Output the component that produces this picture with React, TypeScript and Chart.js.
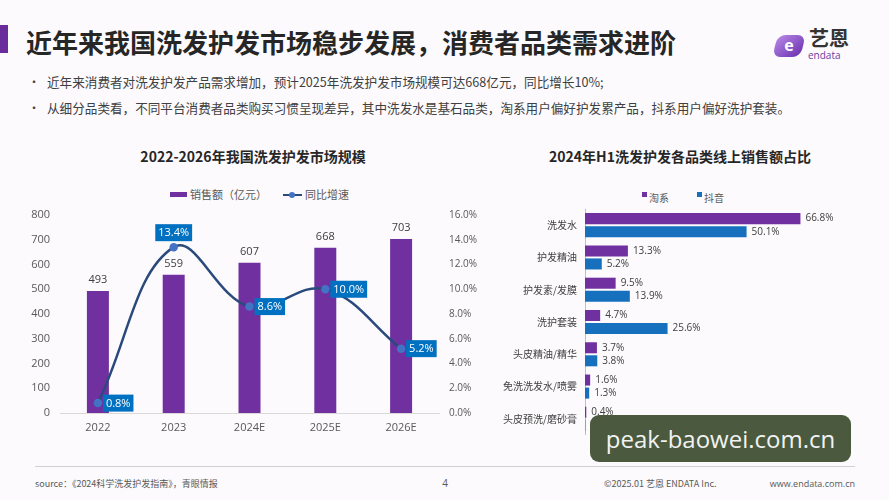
import React, { useEffect, useRef } from "react";
import { Chart, registerables } from "chart.js";

Chart.register(...registerables);

// ---------- data ----------
const years = ["2022", "2023", "2024E", "2025E", "2026E"];
const sales = [493, 559, 607, 668, 703];
const growth = [0.8, 13.4, 8.6, 10.0, 5.2];

const categories = [
  "洗发水",
  "护发精油",
  "护发素/发膜",
  "洗护套装",
  "头皮精油/精华",
  "免洗洗发水/喷雾",
  "头皮预洗/磨砂膏",
];
const taoxi = [66.8, 13.3, 9.5, 4.7, 3.7, 1.6, 0.4];
const douyin = [50.1, 5.2, 13.9, 25.6, 3.8, 1.3, 0.1];

const PURPLE = "#7030A0";
const BLUE = "#0070C0";
const LINE = "#2b4a7c";
const FONT = '"Noto Sans CJK SC", "Open Sans", sans-serif';
const NUMFONT = '"Open Sans", "Noto Sans CJK SC", sans-serif';

const leftLabels = {
  id: "leftLabels",
  afterDatasetsDraw(chart: any) {
    const ctx = chart.ctx;
    ctx.save();
    ctx.font = "11px " + NUMFONT;
    ctx.textAlign = "center";
    ctx.textBaseline = "middle";
    const barMeta = chart.getDatasetMeta(1);
    barMeta.data.forEach((el: any, i: number) => {
      ctx.fillStyle = "#404040";
      ctx.fillText(String(sales[i]), el.x, el.y - 11);
    });
    const lineMeta = chart.getDatasetMeta(0);
    lineMeta.data.forEach((el: any, i: number) => {
      const text = growth[i].toFixed(1) + "%";
      const w = ctx.measureText(text).width + 6;
      const h = 17;
      let bx: number, by: number;
      if (i === 1) {
        bx = el.x - w / 2;
        by = el.y - 6 - h;
      } else {
        bx = el.x + 5;
        by = el.y - h / 2;
      }
      ctx.fillStyle = BLUE;
      ctx.fillRect(bx, by, w, h);
      ctx.fillStyle = "#ffffff";
      ctx.fillText(text, bx + w / 2, by + h / 2 + 0.5);
    });
    ctx.restore();
  },
};

const rightLabels = {
  id: "rightLabels",
  afterDatasetsDraw(chart: any) {
    const ctx = chart.ctx;
    ctx.save();
    ctx.font = "10px " + NUMFONT;
    ctx.textAlign = "left";
    ctx.textBaseline = "middle";
    ctx.fillStyle = "#404040";
    chart.data.datasets.forEach((ds: any, di: number) => {
      const meta = chart.getDatasetMeta(di);
      meta.data.forEach((el: any, i: number) => {
        ctx.fillText(ds.data[i].toFixed(1) + "%", el.x + 5, el.y);
      });
    });
    ctx.restore();
  },
};

function LeftChart() {
  const ref = useRef<HTMLCanvasElement>(null);
  useEffect(() => {
    const chart = new Chart(ref.current as HTMLCanvasElement, {
      type: "bar",
      data: {
        labels: years,
        datasets: [
          {
            type: "line",
            label: "同比增速",
            data: growth,
            yAxisID: "y1",
            borderColor: LINE,
            borderWidth: 2.5,
            tension: 0.4,
            pointRadius: 3,
            pointBackgroundColor: "#4472C4",
            pointBorderColor: "#4472C4",
            order: 0,
          } as any,
          {
            type: "bar",
            label: "销售额（亿元）",
            data: sales,
            yAxisID: "y",
            backgroundColor: PURPLE,
            categoryPercentage: 0.58,
            barPercentage: 0.5,
            order: 1,
          },
        ],
      },
      options: {
        responsive: false,
        maintainAspectRatio: false,
        animation: false,
        layout: { padding: { top: 15, bottom: 0, left: 0, right: 0 } },
        plugins: { legend: { display: false }, tooltip: { enabled: false } },
        scales: {
          x: {
            grid: { display: false, drawTicks: false },
            border: { display: true, color: "#d9d9d9" },
            ticks: { padding: 8, color: "#595959", font: { size: 11, family: NUMFONT } },
            afterFit: (s: any) => {
              s.height = 27;
              s.paddingLeft = 0;
              s.paddingRight = 0;
            },
          },
          y: {
            position: "left",
            min: 0,
            max: 800,
            grid: { display: false, drawTicks: false },
            border: { display: false },
            ticks: { stepSize: 100, padding: 10, color: "#595959", font: { size: 11, family: NUMFONT } },
            afterFit: (s: any) => {
              s.width = 60;
              s.paddingTop = 0;
              s.paddingBottom = 0;
            },
          },
          y1: {
            position: "right",
            min: 0,
            max: 16,
            grid: { display: false, drawTicks: false },
            border: { display: false },
            ticks: {
              stepSize: 2,
              padding: 10,
              color: "#595959",
              font: { size: 10, family: NUMFONT },
              callback: (v: any) => Number(v).toFixed(1) + "%",
            },
            afterFit: (s: any) => {
              s.width = 51;
              s.paddingTop = 0;
              s.paddingBottom = 0;
            },
          },
        },
      } as any,
      plugins: [leftLabels],
    });
    return () => chart.destroy();
  }, []);
  return <canvas ref={ref} width={490} height={240} style={{ display: "block" }} />;
}

function RightChart() {
  const ref = useRef<HTMLCanvasElement>(null);
  useEffect(() => {
    const chart = new Chart(ref.current as HTMLCanvasElement, {
      type: "bar",
      data: {
        labels: categories,
        datasets: [
          {
            label: "淘系",
            data: taoxi,
            backgroundColor: PURPLE,
            categoryPercentage: 0.807,
            barPercentage: 0.846,
          },
          {
            label: "抖音",
            data: douyin,
            backgroundColor: "#1670BE",
            categoryPercentage: 0.807,
            barPercentage: 0.846,
          },
        ],
      },
      options: {
        indexAxis: "y",
        responsive: false,
        maintainAspectRatio: false,
        animation: false,
        layout: { padding: { top: 4, bottom: 0, left: 0, right: 46 } },
        plugins: { legend: { display: false }, tooltip: { enabled: false } },
        scales: {
          x: { display: false, min: 0, max: 80 },
          y: {
            grid: { display: false, drawTicks: false },
            border: { display: true, color: "#bfbfbf" },
            ticks: { padding: 8, color: "#404040", font: { size: 10, family: FONT } },
            afterFit: (s: any) => {
              s.width = 95;
              s.paddingTop = 0;
              s.paddingBottom = 0;
            },
          },
        },
      } as any,
      plugins: [rightLabels],
    });
    return () => chart.destroy();
  }, []);
  return <canvas ref={ref} width={399} height={230} style={{ display: "block" }} />;
}

function T(props: {
  x: number;
  y: number;
  children: React.ReactNode;
  size: number;
  color?: string;
  bold?: boolean;
  align?: "left" | "center" | "right";
  family?: string;
}) {
  const { x, y, size, color = "#404040", bold, align = "left", family = FONT } = props;
  const tx = align === "center" ? "-50%" : align === "right" ? "-100%" : "0";
  return (
    <div
      style={{
        position: "absolute",
        left: x,
        top: y,
        transform: `translate(${tx}, -50%)`,
        fontSize: size,
        lineHeight: 1.2,
        color,
        fontWeight: bold ? 700 : 400,
        fontFamily: family,
        whiteSpace: "nowrap",
      }}
    >
      {props.children}
    </div>
  );
}

export default function App() {
  useEffect(() => {
    document.body.style.margin = "0";
    document.body.style.background = "#fcfafc";
  }, []);
  return (
    <div
      style={{
        position: "relative",
        width: 889,
        height: 500,
        overflow: "hidden",
        background: "#fcfafc",
        fontFamily: FONT,
      }}
    >
      {/* title bar */}
      <div style={{ position: "absolute", left: 0, top: 25, width: 8, height: 28, background: "#6a2c9a" }} />
      <T x={26} y={42} size={26} bold color="#262626">
        近年来我国洗发护发市场稳步发展，消费者品类需求进阶
      </T>

      {/* logo */}
      <div
        style={{
          position: "absolute",
          left: 775,
          top: 35,
          width: 28,
          height: 22,
          borderRadius: 8,
          background: "linear-gradient(135deg,#b889e6,#6a2fb0)",
          transform: "skewX(-14deg)",
        }}
      />
      <T x={789} y={46} size={16} bold color="#ffffff" align="center" family={NUMFONT}>
        e
      </T>
      <T x={809} y={38} size={20} bold color="#333333">
        艺恩
      </T>
      <T x={808} y={55} size={10} color="#6a3ea1" family={NUMFONT}>
        endata
      </T>

      {/* bullets */}
      <T x={28} y={82} size={12} color="#404040">•</T>
      <T x={47} y={82} size={12.6} color="#404040">
        近年来消费者对洗发护发产品需求增加，预计2025年洗发护发市场规模可达668亿元，同比增长10%;
      </T>
      <T x={28} y={108} size={12} color="#404040">•</T>
      <T x={47} y={108} size={12.6} color="#404040">
        从细分品类看，不同平台消费者品类购买习惯呈现差异，其中洗发水是基石品类，淘系用户偏好护发累产品，抖系用户偏好洗护套装。
      </T>

      {/* left chart */}
      <T x={253} y={156} size={14} bold color="#262626" align="center">
        2022-2026年我国洗发护发市场规模
      </T>
      <div style={{ position: "absolute", left: 170, top: 192, width: 17, height: 5, background: PURPLE }} />
      <T x={190} y={195} size={11} color="#595959">
        销售额（亿元）
      </T>
      <div style={{ position: "absolute", left: 283, top: 194, width: 19, height: 2, background: LINE }} />
      <div
        style={{ position: "absolute", left: 289, top: 192, width: 6, height: 6, borderRadius: 3, background: "#4472C4" }}
      />
      <T x={305} y={195} size={11} color="#595959">
        同比增速
      </T>
      <div style={{ position: "absolute", left: 0, top: 200, width: 490, height: 240 }}>
        <LeftChart />
      </div>

      {/* right chart */}
      <T x={680} y={156} size={14} bold color="#262626" align="center">
        2024年H1洗发护发各品类线上销售额占比
      </T>
      <div style={{ position: "absolute", left: 642, top: 192, width: 5, height: 5, background: PURPLE }} />
      <T x={649} y={198} size={10} color="#595959">
        淘系
      </T>
      <div style={{ position: "absolute", left: 697, top: 192, width: 5, height: 5, background: "#1670BE" }} />
      <T x={704} y={198} size={10} color="#595959">
        抖音
      </T>
      <div style={{ position: "absolute", left: 490, top: 205, width: 399, height: 230 }}>
        <RightChart />
      </div>

      {/* footer */}
      <div style={{ position: "absolute", left: 35, top: 466, width: 820, height: 1, background: "#d0d0d0" }} />
      <T x={35} y={484} size={9} color="#595959">
        source：《2024科学洗发护发指南》，青眼情报
      </T>
      <T x={445} y={483} size={10} color="#595959" align="center" family={NUMFONT}>
        4
      </T>
      <T x={604} y={484} size={9} color="#595959">
        ©2025.01 艺恩 ENDATA Inc.
      </T>
      <T x={855} y={484} size={9} color="#595959" align="right" family={NUMFONT}>
        www.endata.com.cn
      </T>

      {/* watermark */}
      <div
        style={{
          position: "absolute",
          left: 590,
          top: 415,
          width: 261,
          height: 47,
          borderRadius: 9,
          background: "#4b5a3e",
          color: "#f2f2f2",
          fontFamily: NUMFONT,
          fontSize: 24,
          lineHeight: "47px",
          textAlign: "center",
          whiteSpace: "nowrap",
        }}
      >
        peak-baowei.com.cn
      </div>
    </div>
  );
}
